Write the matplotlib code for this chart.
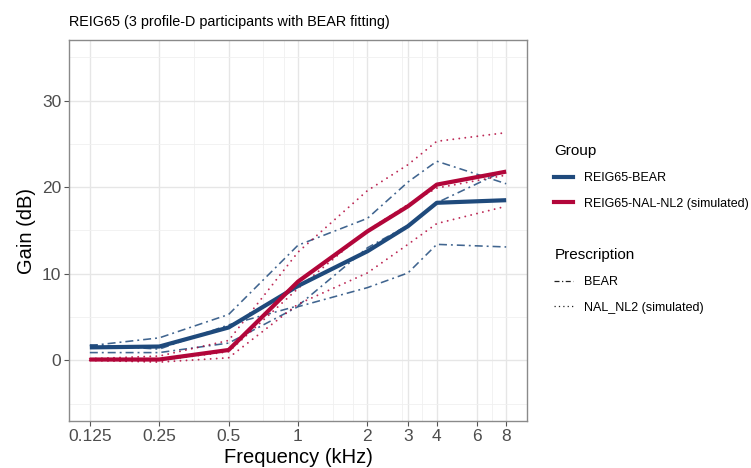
import matplotlib
matplotlib.use("Agg")
import matplotlib.pyplot as plt
from matplotlib.lines import Line2D

plt.rcParams['font.family'] = ['Liberation Sans', 'DejaVu Sans']

# frequências (kHz) e ganhos (dB)
freqs = [0.125, 0.25, 0.5, 1, 2, 3, 4, 8]

# médias por grupo
media_bear = [1.5, 1.6, 3.8, 8.6, 12.6, 15.5, 18.2, 18.5]
media_nal = [0.1, 0.1, 1.2, 9.1, 14.9, 17.8, 20.3, 21.8]

# participantes individuais - BEAR
bear_p1 = [1.7, 2.6, 5.3, 13.3, 16.4, 20.6, 23.0, 20.4]
bear_p2 = [0.9, 0.9, 2.0, 6.2, 8.4, 10.1, 13.4, 13.1]
bear_p3 = [1.8, 1.3, 4.1, 6.3, 13.0, 15.6, 18.2, 22.0]

# participantes individuais - NAL-NL2 (simulado)
nal_p1 = [0.2, 0.5, 2.3, 12.5, 19.6, 22.6, 25.3, 26.3]
nal_p2 = [0.0, 0.0, 1.0, 8.3, 15.0, 18.0, 19.9, 21.4]
nal_p3 = [0.0, -0.2, 0.3, 6.5, 10.1, 13.4, 15.8, 17.8]

tick_freqs = [0.125, 0.25, 0.5, 1, 2, 3, 4, 6, 8]
tick_labels = ["0.125", "0.25", "0.5", "1", "2", "3", "4", "6", "8"]
minor_freqs = [0.354, 0.707, 0.866, 1.414, 1.732, 2.828, 3.464, 6.928]

azul = '#1f4a7c'
vermelho = '#b2063a'
traco_ponto = (0, (5, 2.5, 1.2, 2.5))
pontilhado = (0, (0.01, 3.1))

fig = plt.figure(figsize=(7.51, 4.68), dpi=100)
ax = fig.add_axes([69 / 751, 47 / 468, 458 / 751, 381 / 468])

for p in [bear_p1, bear_p2, bear_p3]:
    ax.plot(freqs, p, color=azul, lw=1.15, ls=traco_ponto, alpha=0.85)
for p in [nal_p1, nal_p2, nal_p3]:
    ax.plot(freqs, p, color=vermelho, lw=1.4, ls=pontilhado, alpha=0.85,
            dash_capstyle='round')
ax.plot(freqs, media_bear, color=azul, lw=3.0, solid_capstyle='butt')
ax.plot(freqs, media_nal, color=vermelho, lw=3.0, solid_capstyle='butt')

ax.set_xscale('log')
ax.set_xlim(0.125 * 2 ** -0.3, 8 * 2 ** 0.3)
ax.set_ylim(-7, 37)
ax.set_xticks(tick_freqs)
ax.set_xticklabels(tick_labels)
ax.set_xticks(minor_freqs, minor=True)
ax.set_xticklabels([], minor=True)
ax.set_yticks([0, 10, 20, 30])
ax.set_yticks([-5, 5, 15, 25, 35], minor=True)

ax.grid(True, which='major', color='#e6e6e6', lw=1.0)
ax.grid(True, which='minor', color='#f0f0f0', lw=0.6)
ax.set_axisbelow(True)
ax.tick_params(which='minor', length=0)
ax.tick_params(which='major', length=3.5, width=0.8, color='#555555',
               labelsize=12.5, labelcolor='#4d4d4d', pad=2)
for s in ax.spines.values():
    s.set_color('#8a8a8a')
    s.set_linewidth(1.0)

ax.set_xlabel('Frequency (kHz)', fontsize=14.5, labelpad=3)
ax.set_ylabel('Gain (dB)', fontsize=14.5, labelpad=4)
ax.set_title('REIG65 (3 profile-D participants with BEAR fitting)',
             loc='left', fontsize=10.4, pad=10)

# legendas
h_grupo = [Line2D([], [], color=azul, lw=3.0),
           Line2D([], [], color=vermelho, lw=3.0)]
leg1 = fig.legend(h_grupo, ['REIG65-BEAR', 'REIG65-NAL-NL2 (simulated)'],
                  title='Group', loc='upper left',
                  bbox_to_anchor=(543 / 751, 1 - 133 / 468),
                  frameon=False, fontsize=9, title_fontsize=11,
                  handlelength=1.5, handletextpad=0.9, labelspacing=1.1,
                  alignment='left')
h_presc = [Line2D([], [], color='#222222', lw=0.9, ls=(0, (4, 2, 1, 2))),
           Line2D([], [], color='#222222', lw=0.9, ls=(0, (1, 2.5)))]
leg2 = fig.legend(h_presc, ['BEAR', 'NAL_NL2 (simulated)'],
                  title='Prescription', loc='upper left',
                  bbox_to_anchor=(543 / 751, 1 - 237 / 468),
                  frameon=False, fontsize=9, title_fontsize=11,
                  handlelength=1.5, handletextpad=0.9, labelspacing=1.1,
                  alignment='left')

fig.savefig('out.png', dpi=100)
